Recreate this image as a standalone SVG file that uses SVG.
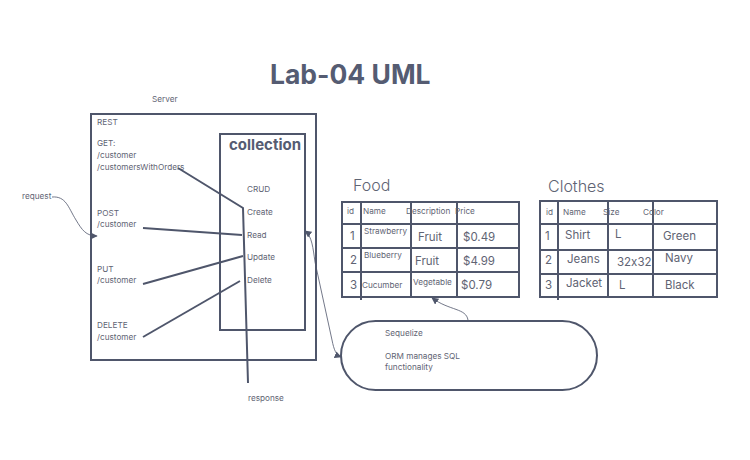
<svg xmlns="http://www.w3.org/2000/svg" width="750" height="460" viewBox="0 0 750 460">
<defs>
<style>
.t{font-family:Inter,"Liberation Sans",sans-serif;font-size:8.2px;fill:#5f6474;font-feature-settings:"calt" 0;}
.m{font-family:Inter,"Liberation Sans",sans-serif;font-size:11.5px;fill:#5f6474;font-feature-settings:"calt" 0;}
.h{font-family:Inter,"Liberation Sans",sans-serif;font-size:16px;font-weight:300;fill:#5f6474;}
.title{font-family:Inter,"Liberation Sans",sans-serif;font-size:26.5px;font-weight:700;fill:#555c72;}
.coll{font-family:Inter,"Liberation Sans",sans-serif;font-size:15px;font-weight:700;fill:#555c72;}
.box{fill:none;stroke:#4f566b;stroke-width:2;}
.ln{fill:none;stroke:#4f566b;stroke-width:2;}
.thin{fill:none;stroke:#4f566b;stroke-width:0.8;}
</style>
<marker id="ah" viewBox="0 0 10 10" refX="9" refY="5" markerWidth="7" markerHeight="7" markerUnits="userSpaceOnUse" orient="auto-start-reverse">
<path d="M0,0 L10,5 L0,10 z" fill="#4f566b"/>
</marker>
</defs>
<rect width="750" height="460" fill="#ffffff"/>
<text class="title" x="270" y="84">Lab-04 UML</text>

<g id="server">
<text class="t" x="152" y="102">Server</text>
<rect class="box" x="91" y="114" width="225" height="246"/>
<text class="t" x="97" y="125">REST</text>
<text class="t" x="97" y="146">GET:</text>
<text class="t" x="97" y="158">/customer</text>
<text class="t" x="97" y="170">/customersWithOrders</text>
<text class="t" x="97" y="216">POST</text>
<text class="t" x="97" y="227">/customer</text>
<text class="t" x="97" y="272">PUT</text>
<text class="t" x="97" y="283">/customer</text>
<text class="t" x="97" y="328">DELETE</text>
<text class="t" x="97" y="340">/customer</text>
</g>

<g id="collection">
<rect class="box" x="220" y="134" width="85" height="196"/>
<text class="coll" x="229" y="150">collection</text>
<text class="t" x="247" y="192">CRUD</text>
<text class="t" x="247" y="215">Create</text>
<text class="t" x="247" y="238">Read</text>
<text class="t" x="247" y="260">Update</text>
<text class="t" x="247" y="283">Delete</text>
</g>

<g id="food">
<text class="h" x="353" y="191">Food</text>
<rect class="box" x="342" y="202" width="177" height="95"/>
<g class="ln">
<line x1="342" y1="224" x2="519" y2="224"/>
<line x1="342" y1="248" x2="519" y2="248"/>
<line x1="342" y1="272" x2="519" y2="272"/>
<line x1="361" y1="202" x2="361" y2="300"/>
<line x1="411" y1="202" x2="411" y2="297"/>
<line x1="457" y1="202" x2="457" y2="297"/>
</g>
<text class="t" x="347" y="214">id</text>
<text class="t" x="363" y="214">Name</text>
<text class="t" x="406" y="214">Description</text>
<text class="t" x="455" y="214">Price</text>
<text class="m" x="350" y="240">1</text>
<text class="t" x="364" y="234">Strawberry</text>
<text class="m" x="418" y="241">Fruit</text>
<text class="m" x="463" y="241">$0.49</text>
<text class="m" x="350" y="264">2</text>
<text class="t" x="364" y="258">Blueberry</text>
<text class="m" x="415" y="265">Fruit</text>
<text class="m" x="463" y="265">$4.99</text>
<text class="m" x="350" y="289">3</text>
<text class="t" x="362" y="288">Cucumber</text>
<text class="t" x="413" y="285">Vegetable</text>
<text class="m" x="461" y="289">$0.79</text>
</g>

<g id="clothes">
<text class="h" x="548" y="192">Clothes</text>
<rect class="box" x="540" y="201" width="177" height="96"/>
<g class="ln">
<line x1="540" y1="224" x2="717" y2="224"/>
<line x1="540" y1="250" x2="717" y2="250"/>
<line x1="540" y1="274" x2="717" y2="274"/>
<line x1="558" y1="201" x2="558" y2="300"/>
<line x1="608" y1="201" x2="608" y2="297"/>
<line x1="653" y1="201" x2="653" y2="297"/>
</g>
<text class="t" x="546" y="215">id</text>
<text class="t" x="563" y="215">Name</text>
<text class="t" x="603" y="215">Size</text>
<text class="t" x="643" y="215">Color</text>
<text class="m" x="545" y="240">1</text>
<text class="m" x="565" y="239">Shirt</text>
<text class="m" x="615" y="238">L</text>
<text class="m" x="663" y="240">Green</text>
<text class="m" x="545" y="264">2</text>
<text class="m" x="567" y="263">Jeans</text>
<text class="m" x="617" y="266">32x32</text>
<text class="m" x="665" y="262">Navy</text>
<text class="m" x="545" y="289">3</text>
<text class="m" x="566" y="287">Jacket</text>
<text class="m" x="619" y="289">L</text>
<text class="m" x="665" y="289">Black</text>
</g>

<g id="sequelize">
<rect class="box" x="341" y="321" width="256" height="69" rx="34.5" ry="34.5"/>
<text class="t" x="385" y="336">Sequelize</text>
<text class="t" x="385" y="359">ORM manages SQL</text>
<text class="t" x="385" y="370">functionality</text>
</g>

<g id="labels">
<text class="t" x="22" y="199">request</text>
<text class="t" x="248" y="401">response</text>
</g>

<g id="connectors">
<polyline class="ln" points="178,168 243,208 248,383"/>
<line class="ln" x1="143" y1="228" x2="242" y2="235"/>
<line class="ln" x1="143" y1="284" x2="243" y2="256"/>
<line class="ln" x1="143" y1="337" x2="240" y2="281"/>
<path class="thin" d="M52,197 C66,196 68,207 76,220 C82,230 86,236 97,236" marker-end="url(#ah)"/>
<path class="thin" d="M305,231 C312,236 313,248 315,262 L332,340 C334,350 336,355 341,357" marker-start="url(#ah)" marker-end="url(#ah)"/>
<path class="thin" d="M468,320 C466,308 450,311 432,298" marker-end="url(#ah)"/>
</g>
</svg>
